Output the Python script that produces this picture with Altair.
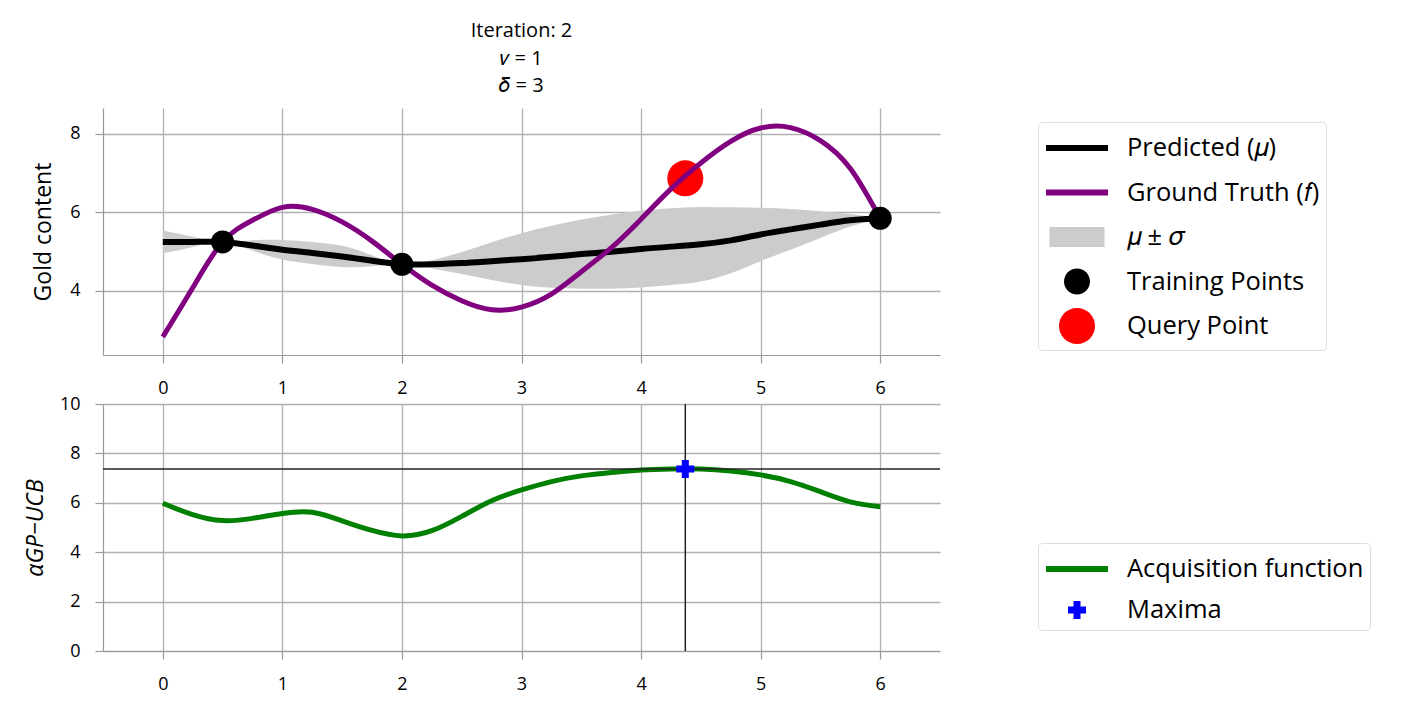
import altair as alt
import pandas as pd

FONT = "Open Sans"

# ---------------- upper panel data ----------------
GRID_X = [0, 0.25, 0.5, 0.75, 1.0, 1.25, 1.5, 1.75, 2.0, 2.25, 2.5, 2.75, 3.0,
          3.25, 3.5, 3.75, 4.0, 4.25, 4.5, 4.75, 5.0, 5.25, 5.5, 5.75, 6.0]
MEAN = [5.25, 5.25, 5.25, 5.16, 5.05, 4.97, 4.88, 4.77, 4.68, 4.68, 4.71, 4.76, 4.81,
        4.87, 4.94, 5.00, 5.07, 5.13, 5.19, 5.29, 5.44, 5.57, 5.69, 5.80, 5.85]
SIGMA = [0.29, 0.13, 0.0, 0.13, 0.25, 0.28, 0.27, 0.14, 0.0, 0.10, 0.28, 0.48, 0.66,
         0.79, 0.88, 0.94, 0.98, 0.98, 0.95, 0.84, 0.68, 0.52, 0.34, 0.16, 0.0]

TRUTH_X = [0, 0.25, 0.5, 0.75, 1.0, 1.25, 1.5, 1.75, 2.0, 2.25, 2.5, 2.75,
           3.0, 3.25, 3.5, 3.75, 4.0, 4.25, 4.5, 4.75, 5.0, 5.25, 5.5, 5.75, 6.0]
TRUTH_Y = [2.83, 4.08, 5.25, 5.80, 6.13, 6.08, 5.76, 5.27, 4.68, 4.15, 3.75, 3.52,
           3.59, 3.92, 4.49, 5.10, 5.83, 6.60, 7.26, 7.81, 8.15, 8.16, 7.83, 7.12, 5.85]

TRAIN_X = [0.5, 2.0, 6.0]
TRAIN_Y = [5.25, 4.68, 5.85]
QUERY_X = [4.37]
QUERY_Y = [6.87]

# ---------------- lower panel data ----------------
ACQ_X = [0, 0.25, 0.5, 0.75, 1.0, 1.25, 1.5, 1.75, 2.0, 2.25, 2.5, 2.75, 3.0,
         3.25, 3.5, 3.75, 4.0, 4.25, 4.5, 4.75, 5.0, 5.25, 5.5, 5.75, 6.0]
ACQ_Y = [5.98, 5.52, 5.28, 5.37, 5.57, 5.62, 5.27, 4.88, 4.66, 4.87, 5.45, 6.08, 6.52,
         6.86, 7.09, 7.23, 7.33, 7.37, 7.37, 7.29, 7.13, 6.86, 6.45, 6.04, 5.84]
MAX_X = [4.37]
MAX_Y = [7.37]

X_TICKS = [0, 1, 2, 3, 4, 5, 6]
Y1_TICKS = [4, 6, 8]
Y2_TICKS = [0, 2, 4, 6, 8, 10]

LEG1_LABELS = ["Predicted (\U0001D707)", "Ground Truth (\U0001D453)", "\U0001D707 \u00B1 \U0001D70E",
               "Training Points", "Query Point"]
LEG1_COLORS = ["#000000", "#800080", "#cccccc", "#000000", "#ff0000"]
LEG2_LABELS = ["Acquisition function", "Maxima"]
LEG2_COLORS = ["#008000", "#0000ff"]

# symbol shapes (unit box -1..1)
LINE_SYM = "M-1.55,-0.15H1.55V0.15H-1.55Z"
BAND_SYM = "M-1.375,-0.5H1.375V0.5H-1.375Z"
SMALL_DOT = "M-0.65,0A0.65,0.65,0,1,1,0.65,0A0.65,0.65,0,1,1,-0.65,0Z"
BIG_DOT = "M-0.9,0A0.9,0.9,0,1,1,0.9,0A0.9,0.9,0,1,1,-0.9,0Z"
PLUS = ("M-0.175,-0.45H0.175V-0.175H0.45V0.175H0.175V0.45H-0.175V0.175"
        "H-0.45V-0.175H-0.175Z")

# ---------------- frames ----------------
band_df = pd.DataFrame({"x": GRID_X, "mu": MEAN, "sigma": SIGMA})
band_df["lo"] = band_df["mu"] - band_df["sigma"]
band_df["hi"] = band_df["mu"] + band_df["sigma"]
truth_df = pd.DataFrame({"x": TRUTH_X, "y": TRUTH_Y})
train_df = pd.DataFrame({"x": TRAIN_X, "y": TRAIN_Y})
query_df = pd.DataFrame({"x": QUERY_X, "y": QUERY_Y})
acq_df = pd.DataFrame({"x": ACQ_X, "y": ACQ_Y})
max_df = pd.DataFrame({"x": MAX_X, "y": MAX_Y})

X_DOM = [-0.5, 6.5]
INTERP = "natural"


def x_enc():
    return alt.X("x:Q", scale=alt.Scale(domain=X_DOM, nice=False, zero=False),
                 axis=alt.Axis(values=X_TICKS, title=None, labelPadding=16))


def y_enc(field, dom, ticks, title, tpad, italic=False):
    kw = dict(values=ticks, title=title, titlePadding=tpad, labelPadding=15)
    if italic:
        kw["titleFontStyle"] = "italic"
    return alt.Y(field, scale=alt.Scale(domain=dom, nice=False, zero=False),
                 axis=alt.Axis(**kw))


def legend_layer(field, labels, colors, paths, ly, rowpad):
    leg = alt.Legend(title=None, orient="none", legendX=935, legendY=ly, padding=6,
                     symbolSize=1600, symbolOffset=13, labelOffset=30, rowPadding=rowpad,
                     labelFontSize=25.5, labelFont=FONT, labelColor="#000000",
                     fillColor="#ffffff", strokeColor="#dddddd", cornerRadius=4,
                     symbolStrokeWidth=0, symbolOpacity=1, labelLimit=500)
    df = pd.DataFrame({field: labels})
    return alt.Chart(df).transform_filter("false").mark_point(filled=True).encode(
        color=alt.Color(f"{field}:N", scale=alt.Scale(domain=labels, range=colors), legend=leg),
        shape=alt.Shape(f"{field}:N", scale=alt.Scale(domain=labels, range=paths), legend=leg),
    )


Y1_DOM = [2.37, 8.66]
Y1_TITLE = "Gold content"

band = alt.Chart(band_df).mark_area(color="#cccccc", opacity=1, interpolate=INTERP).encode(
    x=x_enc(), y=y_enc("lo:Q", Y1_DOM, Y1_TICKS, Y1_TITLE, 14), y2="hi:Q")
mean_line = alt.Chart(band_df).mark_line(color="#000000", strokeWidth=6, interpolate=INTERP).encode(
    x=x_enc(), y=y_enc("mu:Q", Y1_DOM, Y1_TICKS, Y1_TITLE, 14))
query_pt = alt.Chart(query_df).mark_circle(color="#ff0000", size=1296, opacity=1).encode(
    x=x_enc(), y=y_enc("y:Q", Y1_DOM, Y1_TICKS, Y1_TITLE, 14))
truth_line = alt.Chart(truth_df).mark_line(color="#800080", strokeWidth=5, interpolate=INTERP).encode(
    x=x_enc(), y=y_enc("y:Q", Y1_DOM, Y1_TICKS, Y1_TITLE, 14))
train_pts = alt.Chart(train_df).mark_circle(color="#000000", size=530, opacity=1).encode(
    x=x_enc(), y=y_enc("y:Q", Y1_DOM, Y1_TICKS, Y1_TITLE, 14))
leg1 = legend_layer("series_top", LEG1_LABELS, LEG1_COLORS,
                    [LINE_SYM, LINE_SYM, BAND_SYM, SMALL_DOT, BIG_DOT], 14, 10.5)

upper = alt.layer(band, mean_line, query_pt, truth_line, train_pts, leg1).properties(
    width=837, height=247,
    title=alt.Title(["Iteration: 2", "\U0001D463 = 1", "\U0001D6FF = 3"], anchor="middle",
                    fontSize=20, font=FONT, fontWeight="normal", lineHeight=27.5, offset=12))

Y2_DOM = [0, 10]
Y2_TITLE = "\u03B1GP\u2212UCB"
acq_line = alt.Chart(acq_df).mark_line(color="#008000", strokeWidth=5, interpolate=INTERP).encode(
    x=x_enc(), y=y_enc("y:Q", Y2_DOM, Y2_TICKS, Y2_TITLE, 12, italic=True))
hrule = alt.Chart(max_df).mark_rule(color="#222222", strokeWidth=1.5).encode(
    y=y_enc("y:Q", Y2_DOM, Y2_TICKS, Y2_TITLE, 12, italic=True))
vrule = alt.Chart(max_df).mark_rule(color="#222222", strokeWidth=1.5).encode(x=x_enc())
max_pt = alt.Chart(max_df).mark_point(shape=PLUS, filled=True, color="#0000ff", size=1600, opacity=1).encode(
    x=x_enc(), y=y_enc("y:Q", Y2_DOM, Y2_TICKS, Y2_TITLE, 12, italic=True))
leg2 = legend_layer("series_bottom", LEG2_LABELS, LEG2_COLORS, [LINE_SYM, PLUS], 139, 7)

lower = alt.layer(acq_line, hrule, vrule, max_pt, leg2).properties(width=837, height=247)

chart = alt.vconcat(upper, lower, spacing=49, bounds="flush").resolve_scale(
    color="independent", shape="independent"
).resolve_legend(color="independent", shape="independent").properties(
    padding={"left": 16, "top": 13, "right": 5, "bottom": 5}
).configure_view(stroke=None).configure_axis(
    gridColor="#b0b0b0", gridWidth=1.3, domainColor="#999999", domainWidth=1.2,
    tickColor="#999999", tickWidth=1.2, tickSize=8,
    labelFont=FONT, labelFontSize=18, labelColor="#000000",
    titleFont=FONT, titleFontSize=23, titleFontWeight="normal", titleColor="#000000",
).configure_legend(labelFont=FONT)

chart.save("out.html", embed_options={"renderer": "svg", "actions": False})
